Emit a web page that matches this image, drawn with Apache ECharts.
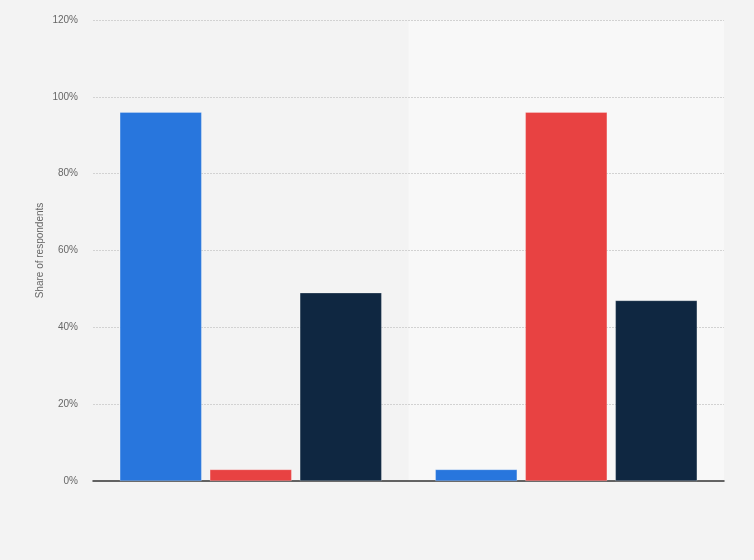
<!DOCTYPE html>
<html>
<head>
<meta charset="utf-8">
<script src="https://cdn.jsdelivr.net/npm/echarts@6/dist/echarts.min.js"></script>
<style>
html,body{margin:0;padding:0;background:#f3f3f3;}
#c{width:754px;height:560px;}
</style>
</head>
<body>
<div id="c"></div>
<script>
const categories = ['Group A', 'Group B'];
const seriesNames = ['Series 1', 'Series 2', 'Series 3'];
const series1 = [96, 3];
const series2 = [3, 96];
const series3 = [49, 47];
const yTicks = [0, 20, 40, 60, 80, 100, 120];

const colors = ['#2876dd', '#e84242', '#0f2741'];
const chart = echarts.init(document.getElementById('c'));
const values = [series1, series2, series3];
chart.setOption({
  backgroundColor: '#f3f3f3',
  animation: false,
  textStyle: {fontFamily: 'Liberation Sans, Arial, sans-serif'},
  grid: {left: 93, right: 30, top: 20, bottom: 79, containLabel: false},
  xAxis: {
    type: 'category',
    data: categories,
    z: 0,
    axisLine: {show: true, lineStyle: {color: '#333', width: 1.5}},
    axisTick: {show: false},
    axisLabel: {show: false},
    splitArea: {show: true, areaStyle: {color: ['rgba(0,0,0,0)', '#f8f8f8']}}
  },
  yAxis: {
    type: 'value',
    z: 1,
    min: yTicks[0],
    max: yTicks[yTicks.length - 1],
    interval: 20,
    name: 'Share of respondents',
    nameLocation: 'middle',
    nameGap: 48,
    nameMoveOverlap: false,
    nameTextStyle: {color: '#666', fontSize: 10},
    axisLine: {show: false},
    axisTick: {show: false},
    axisLabel: {color: '#666', fontSize: 10, margin: 15, formatter: v => v + '%'},
    splitLine: {show: true, showMinLine: false, lineStyle: {color: '#d2d2d2', type: [2, 1], width: 1}}
  },
  series: values.map((d, i) => ({
    name: seriesNames[i],
    type: 'bar',
    data: d,
    z: 2,
    barGap: '10%',
    barCategoryGap: '17%',
    itemStyle: {color: colors[i], borderColor: 'rgba(255,255,255,0.5)', borderWidth: 0.5}
  }))
});
</script>
</body>
</html>
